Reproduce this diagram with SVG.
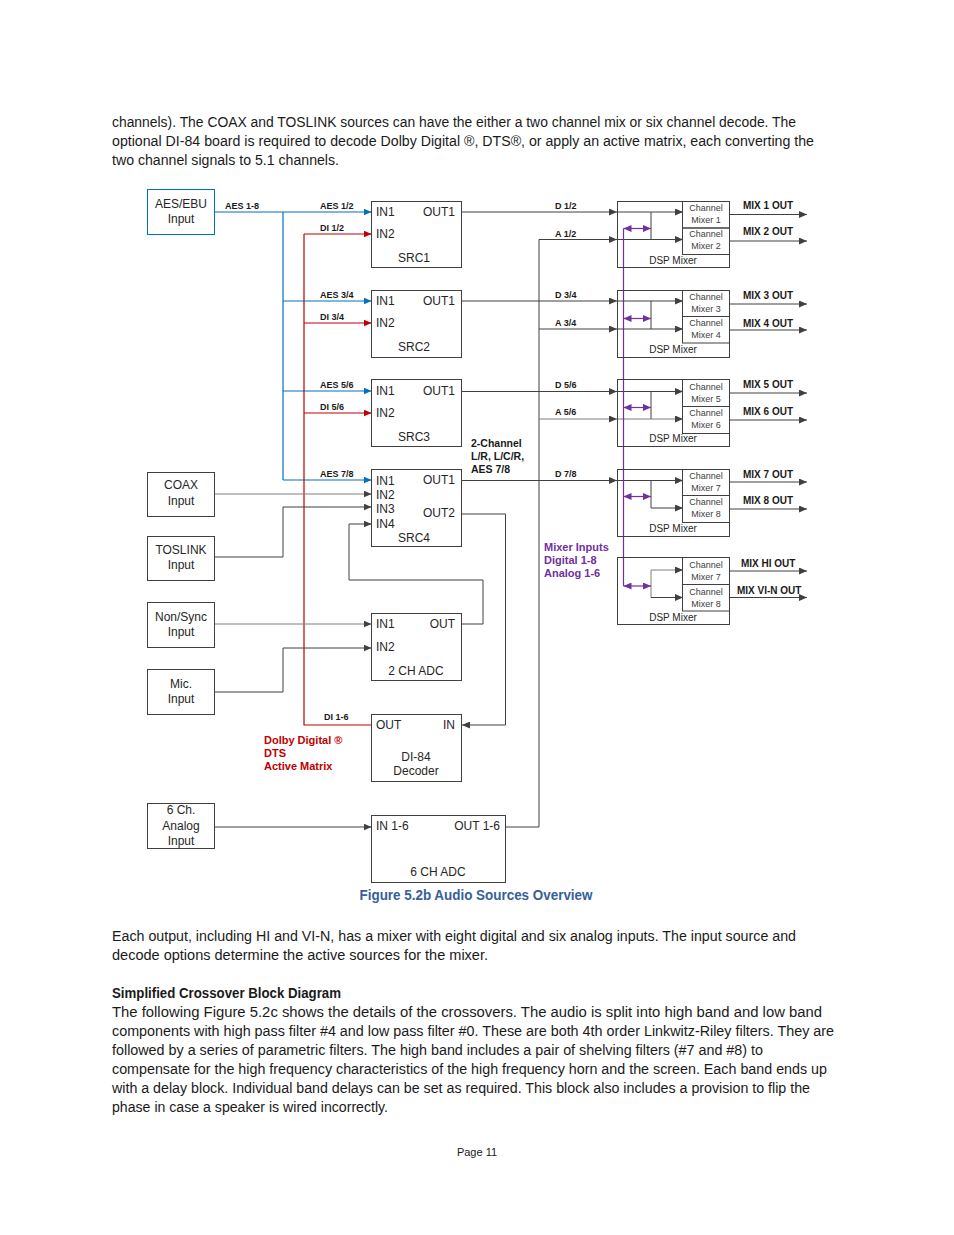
<svg xmlns="http://www.w3.org/2000/svg" width="954" height="1235" viewBox="0 0 954 1235">
<defs>
<style>
.body{font-family:"Liberation Sans",Arial,sans-serif;font-size:14px;fill:#1a1a1a}
.bx{fill:none;stroke:#404040;stroke-width:1}
.bxb{fill:none;stroke:#0070C0;stroke-width:1}
.t{font-family:"Liberation Sans",Arial,sans-serif;font-size:12px;fill:#262626}
.tc{text-anchor:middle}
.te{text-anchor:end}
.lb{font-family:"Liberation Sans",Arial,sans-serif;font-size:9px;font-weight:bold;fill:#1a1a1a}
.mx{font-family:"Liberation Sans",Arial,sans-serif;font-size:10px;font-weight:bold;fill:#1a1a1a}
.cm{font-family:"Liberation Sans",Arial,sans-serif;font-size:9px;fill:#404040;text-anchor:middle}
.dsp{font-family:"Liberation Sans",Arial,sans-serif;font-size:10px;fill:#262626;text-anchor:middle}
.ln{fill:none;stroke:#404040;stroke-width:1}
.lg{fill:none;stroke:#7f7f7f;stroke-width:1}
.blue{fill:none;stroke:#0070C0;stroke-width:1.2}
.red{fill:none;stroke:#C00000;stroke-width:1.2}
.pur{fill:none;stroke:#7030A0;stroke-width:1.2}
.ad{marker-end:url(#ad)}
.ab{marker-end:url(#ab)}
.ar{marker-end:url(#ar)}
</style>
<marker id="ad" viewBox="0 0 8 7" refX="8" refY="3.5" markerWidth="8" markerHeight="7" markerUnits="userSpaceOnUse" orient="auto"><path d="M0,0 L8,3.5 L0,7 z" fill="#404040"/></marker>
<marker id="ab" viewBox="0 0 8 7" refX="8" refY="3.5" markerWidth="8" markerHeight="7" markerUnits="userSpaceOnUse" orient="auto"><path d="M0,0 L8,3.5 L0,7 z" fill="#0070C0"/></marker>
<marker id="ar" viewBox="0 0 8 7" refX="8" refY="3.5" markerWidth="8" markerHeight="7" markerUnits="userSpaceOnUse" orient="auto"><path d="M0,0 L8,3.5 L0,7 z" fill="#C00000"/></marker>
<marker id="ap" viewBox="0 0 8 7" refX="8" refY="3.5" markerWidth="8" markerHeight="7" markerUnits="userSpaceOnUse" orient="auto-start-reverse"><path d="M0,0 L8,3.5 L0,7 z" fill="#7030A0"/></marker>
</defs>
<rect width="954" height="1235" fill="#ffffff"/>

<g id="page-text">
<text class="body" x="112" y="127" textLength="684" lengthAdjust="spacingAndGlyphs">channels). The COAX and TOSLINK sources can have the either a two channel mix or six channel decode. The</text>
<text class="body" x="112" y="146" textLength="702" lengthAdjust="spacingAndGlyphs">optional DI-84 board is required to decode Dolby Digital ®, DTS®, or apply an active matrix, each converting the</text>
<text class="body" x="112" y="165" textLength="227" lengthAdjust="spacingAndGlyphs">two channel signals to 5.1 channels.</text>
<text x="476" y="900" text-anchor="middle" font-family="'Liberation Sans',Arial,sans-serif" font-size="14" font-weight="bold" fill="#36609A" textLength="233" lengthAdjust="spacingAndGlyphs">Figure 5.2b Audio Sources Overview</text>
<text class="body" x="112" y="941" textLength="684" lengthAdjust="spacingAndGlyphs">Each output, including HI and VI-N, has a mixer with eight digital and six analog inputs. The input source and</text>
<text class="body" x="112" y="960" textLength="376" lengthAdjust="spacingAndGlyphs">decode options determine the active sources for the mixer.</text>
<text class="body" x="112" y="998" font-weight="bold" textLength="229" lengthAdjust="spacingAndGlyphs">Simplified Crossover Block Diagram</text>
<text class="body" x="112" y="1017" textLength="710" lengthAdjust="spacingAndGlyphs">The following Figure 5.2c shows the details of the crossovers. The audio is split into high band and low band</text>
<text class="body" x="112" y="1036" textLength="722" lengthAdjust="spacingAndGlyphs">components with high pass filter #4 and low pass filter #0. These are both 4th order Linkwitz-Riley filters. They are</text>
<text class="body" x="112" y="1055" textLength="651" lengthAdjust="spacingAndGlyphs">followed by a series of parametric filters. The high band includes a pair of shelving filters (#7 and #8) to</text>
<text class="body" x="112" y="1074" textLength="715" lengthAdjust="spacingAndGlyphs">compensate for the high frequency characteristics of the high frequency horn and the screen. Each band ends up</text>
<text class="body" x="112" y="1093" textLength="698" lengthAdjust="spacingAndGlyphs">with a delay block. Individual band delays can be set as required. This block also includes a provision to flip the</text>
<text class="body" x="112" y="1112" textLength="276" lengthAdjust="spacingAndGlyphs">phase in case a speaker is wired incorrectly.</text>
<text x="477" y="1156" text-anchor="middle" font-family="'Liberation Sans',Arial,sans-serif" font-size="11" fill="#1a1a1a">Page 11</text>
</g>

<g id="connectors">
<!-- blue AES -->
<path class="blue ab" d="M214,212 H371.5"/>
<path class="blue" d="M283,212 V480"/>
<path class="blue ab" d="M283,301 H371.5"/>
<path class="blue ab" d="M283,391 H371.5"/>
<path class="blue ab" d="M283,480 H371.5"/>
<!-- red DI -->
<path class="red" d="M304,234 V725 H371.5"/>
<path class="red ar" d="M304,234 H371.5"/>
<path class="red ar" d="M304,323 H371.5"/>
<path class="red ar" d="M304,413 H371.5"/>
<!-- inputs -->
<path class="lg ad" d="M214,494 H371.5"/>
<path class="ln ad" d="M214,557 H283 V507 H371.5"/>
<path class="ln ad" d="M461,624 H483 V580 H349 V524 H371.5"/>
<path class="ln ad" d="M461,514 H505.5 V725 H462"/>
<path class="lg ad" d="M214,624 H371.5"/>
<path class="ln ad" d="M214,692 H283 V648 H371.5"/>
<path class="ln ad" d="M214,827 H371.5"/>
<!-- analog bus -->
<path class="ln ad" d="M505.5,827 H539 V239.5 H617"/>
<path class="ln ad" d="M539,329 H617"/>
<path class="lg ad" d="M539,419 H617"/>
<!-- SRC outputs -->
<path class="ln ad" d="M461,212 H617"/>
<path class="ln ad" d="M461,301 H617"/>
<path class="ln ad" d="M461,391.5 H617"/>
<path class="ln ad" d="M461,480.5 H617"/>
<!-- DSP internal -->
<path class="ln ad" d="M617,212 H683"/>
<path class="ln" d="M651,212 V239.5"/>
<path class="ln ad" d="M617,239.5 H683"/>
<path class="ln ad" d="M617,301 H683"/>
<path class="ln" d="M651,301 V329"/>
<path class="ln ad" d="M617,329 H683"/>
<path class="ln ad" d="M617,391.5 H683"/>
<path class="ln" d="M651,391.5 V419"/>
<path class="lg ad" d="M617,419 H683"/>
<path class="ln ad" d="M617,480.5 H683"/>
<path class="ln ad" d="M651,480.5 V508 H683"/>
<path class="lg ad" d="M651,597.5 V570 H683"/>
<path class="ln ad" d="M651,597.5 H683"/>
<!-- outputs -->
<path class="ln ad" d="M729,214.5 H807"/>
<path class="ln ad" d="M729,241 H807"/>
<path class="ln ad" d="M729,304 H807"/>
<path class="ln ad" d="M729,330 H807"/>
<path class="ln ad" d="M729,393 H807"/>
<path class="ln ad" d="M729,420 H807"/>
<path class="ln ad" d="M729,482 H807"/>
<path class="ln ad" d="M729,509 H807"/>
<path class="ln ad" d="M729,571 H807"/>
<path class="ln ad" d="M729,597.5 H807"/>
<!-- purple -->
<path class="pur" d="M623.5,228.5 V586"/>
<path class="pur" d="M623.5,228.5 H651" marker-start="url(#ap)" marker-end="url(#ap)"/>
<path class="pur" d="M623.5,318.5 H651" marker-start="url(#ap)" marker-end="url(#ap)"/>
<path class="pur" d="M623.5,407.5 H651" marker-start="url(#ap)" marker-end="url(#ap)"/>
<path class="pur" d="M623.5,496.5 H651" marker-start="url(#ap)" marker-end="url(#ap)"/>
<path class="pur" d="M623.5,586 H651" marker-start="url(#ap)" marker-end="url(#ap)"/>
<!-- labels -->
<text class="lb" x="225" y="209">AES 1-8</text>
<text class="lb" x="320" y="209">AES 1/2</text>
<text class="lb" x="320" y="231">DI 1/2</text>
<text class="lb" x="320" y="298">AES 3/4</text>
<text class="lb" x="320" y="320">DI 3/4</text>
<text class="lb" x="320" y="388">AES 5/6</text>
<text class="lb" x="320" y="410">DI 5/6</text>
<text class="lb" x="320" y="477">AES 7/8</text>
<text class="lb" x="324" y="720">DI 1-6</text>
<text class="lb" x="555" y="209">D 1/2</text>
<text class="lb" x="555" y="237">A 1/2</text>
<text class="lb" x="555" y="298">D 3/4</text>
<text class="lb" x="555" y="326">A 3/4</text>
<text class="lb" x="555" y="388">D 5/6</text>
<text class="lb" x="555" y="415">A 5/6</text>
<text class="lb" x="555" y="477">D 7/8</text>
<text class="mx" x="743" y="209">MIX 1 OUT</text>
<text class="mx" x="743" y="235">MIX 2 OUT</text>
<text class="mx" x="743" y="299">MIX 3 OUT</text>
<text class="mx" x="743" y="327">MIX 4 OUT</text>
<text class="mx" x="743" y="388">MIX 5 OUT</text>
<text class="mx" x="743" y="415">MIX 6 OUT</text>
<text class="mx" x="743" y="478">MIX 7 OUT</text>
<text class="mx" x="743" y="504">MIX 8 OUT</text>
<text class="mx" x="741" y="567">MIX HI OUT</text>
<text class="mx" x="737" y="594">MIX VI-N OUT</text>
<g font-family="'Liberation Sans',Arial,sans-serif" font-size="10.5" font-weight="bold" fill="#1a1a1a">
<text x="471" y="447">2-Channel</text>
<text x="471" y="460">L/R, L/C/R,</text>
<text x="471" y="473">AES 7/8</text>
</g>
<g font-family="'Liberation Sans',Arial,sans-serif" font-size="11" font-weight="bold" fill="#7030A0">
<text x="544" y="551">Mixer Inputs</text>
<text x="544" y="564">Digital 1-8</text>
<text x="544" y="577">Analog 1-6</text>
</g>
<g font-family="'Liberation Sans',Arial,sans-serif" font-size="11" font-weight="bold" fill="#C00000">
<text x="264" y="744">Dolby Digital ®</text>
<text x="264" y="757">DTS</text>
<text x="264" y="770">Active Matrix</text>
</g>
</g>

<g id="aes-ebu"><rect class="bxb" x="147.5" y="189.5" width="67" height="45"/><text class="t tc" x="181" y="208">AES/EBU</text><text class="t tc" x="181" y="223">Input</text></g>
<g id="coax"><rect class="bx" x="147.5" y="472.5" width="67" height="44"/><text class="t tc" x="181" y="489">COAX</text><text class="t tc" x="181" y="505">Input</text></g>
<g id="toslink"><rect class="bx" x="147.5" y="536.5" width="67" height="44"/><text class="t tc" x="181" y="554">TOSLINK</text><text class="t tc" x="181" y="569">Input</text></g>
<g id="nonsync"><rect class="bx" x="147.5" y="602.5" width="67" height="45"/><text class="t tc" x="181" y="621">Non/Sync</text><text class="t tc" x="181" y="636">Input</text></g>
<g id="mic"><rect class="bx" x="147.5" y="669.5" width="67" height="45"/><text class="t tc" x="181" y="688">Mic.</text><text class="t tc" x="181" y="703">Input</text></g>
<g id="analog6"><rect class="bx" x="147.5" y="803.5" width="67" height="45"/><text class="t tc" x="181" y="814">6 Ch.</text><text class="t tc" x="181" y="830">Analog</text><text class="t tc" x="181" y="845">Input</text></g>

<g id="src1"><rect class="bx" x="371.5" y="201.5" width="90" height="66"/><text class="t" x="376" y="216">IN1</text><text class="t te" x="455" y="216">OUT1</text><text class="t" x="376" y="238">IN2</text><text class="t tc" x="414" y="262">SRC1</text></g>
<g id="src2"><rect class="bx" x="371.5" y="290.5" width="90" height="67"/><text class="t" x="376" y="305">IN1</text><text class="t te" x="455" y="305">OUT1</text><text class="t" x="376" y="327">IN2</text><text class="t tc" x="414" y="351">SRC2</text></g>
<g id="src3"><rect class="bx" x="371.5" y="379.5" width="90" height="67"/><text class="t" x="376" y="395">IN1</text><text class="t te" x="455" y="395">OUT1</text><text class="t" x="376" y="417">IN2</text><text class="t tc" x="414" y="441">SRC3</text></g>
<g id="src4"><rect class="bx" x="371.5" y="469.5" width="90" height="77"/><text class="t" x="376" y="485">IN1</text><text class="t te" x="455" y="484">OUT1</text><text class="t" x="376" y="499">IN2</text><text class="t" x="376" y="513">IN3</text><text class="t te" x="455" y="517">OUT2</text><text class="t" x="376" y="528">IN4</text><text class="t tc" x="414" y="542">SRC4</text></g>
<g id="adc2"><rect class="bx" x="371.5" y="613.5" width="90" height="67"/><text class="t" x="376" y="628">IN1</text><text class="t te" x="455" y="628">OUT</text><text class="t" x="376" y="651">IN2</text><text class="t tc" x="416" y="675">2 CH ADC</text></g>
<g id="di84"><rect class="bx" x="371.5" y="714.5" width="90" height="67"/><text class="t" x="376" y="729">OUT</text><text class="t te" x="455" y="729">IN</text><text class="t tc" x="416" y="761" font-size="11">DI-84</text><text class="t tc" x="416" y="775" font-size="11">Decoder</text></g>
<g id="adc6"><rect class="bx" x="371.5" y="815.5" width="134" height="67"/><text class="t" x="376" y="830" font-size="11">IN 1-6</text><text class="t te" x="500" y="830" font-size="11">OUT 1-6</text><text class="t tc" x="438" y="876">6 CH ADC</text></g>

<g id="dsp1"><rect class="bx" x="617.5" y="201.5" width="112" height="66"/><rect class="bx" x="682.5" y="201.5" width="47" height="26.5"/><rect class="bx" x="682.5" y="228" width="47" height="26.5"/><text class="cm" x="706" y="211">Channel</text><text class="cm" x="706" y="223">Mixer 1</text><text class="cm" x="706" y="237">Channel</text><text class="cm" x="706" y="249">Mixer 2</text><text class="dsp" x="673" y="264">DSP Mixer</text></g>
<g id="dsp2"><rect class="bx" x="617.5" y="290.5" width="112" height="67"/><rect class="bx" x="682.5" y="290.5" width="47" height="26"/><rect class="bx" x="682.5" y="316.5" width="47" height="26.5"/><text class="cm" x="706" y="300">Channel</text><text class="cm" x="706" y="312">Mixer 3</text><text class="cm" x="706" y="326">Channel</text><text class="cm" x="706" y="338">Mixer 4</text><text class="dsp" x="673" y="353">DSP Mixer</text></g>
<g id="dsp3"><rect class="bx" x="617.5" y="379.5" width="112" height="67"/><rect class="bx" x="682.5" y="379.5" width="47" height="27"/><rect class="bx" x="682.5" y="406.5" width="47" height="27"/><text class="cm" x="706" y="390">Channel</text><text class="cm" x="706" y="402">Mixer 5</text><text class="cm" x="706" y="416">Channel</text><text class="cm" x="706" y="428">Mixer 6</text><text class="dsp" x="673" y="442">DSP Mixer</text></g>
<g id="dsp4"><rect class="bx" x="617.5" y="469.5" width="112" height="67"/><rect class="bx" x="682.5" y="469.5" width="47" height="26"/><rect class="bx" x="682.5" y="495.5" width="47" height="27"/><text class="cm" x="706" y="479">Channel</text><text class="cm" x="706" y="491">Mixer 7</text><text class="cm" x="706" y="505">Channel</text><text class="cm" x="706" y="517">Mixer 8</text><text class="dsp" x="673" y="532">DSP Mixer</text></g>
<g id="dsp5"><rect class="bx" x="617.5" y="557.5" width="112" height="67"/><rect class="bx" x="682.5" y="557.5" width="47" height="27"/><rect class="bx" x="682.5" y="584.5" width="47" height="26.5"/><text class="cm" x="706" y="568">Channel</text><text class="cm" x="706" y="580">Mixer 7</text><text class="cm" x="706" y="595">Channel</text><text class="cm" x="706" y="607">Mixer 8</text><text class="dsp" x="673" y="621">DSP Mixer</text></g>
</svg>
